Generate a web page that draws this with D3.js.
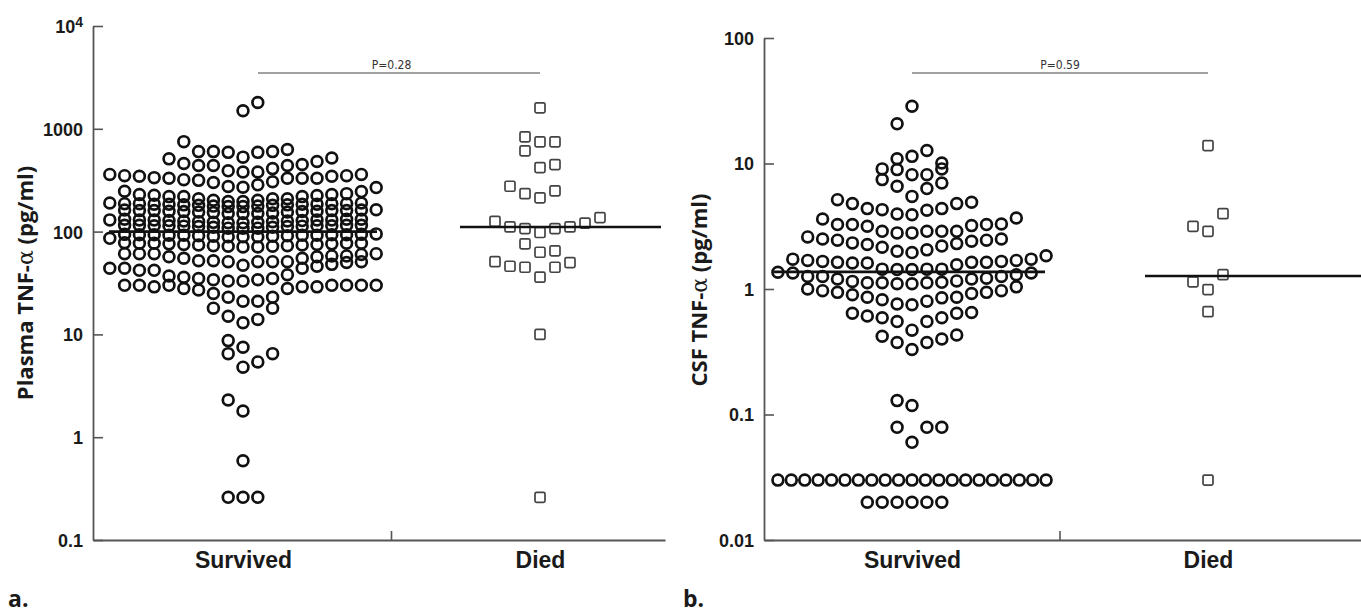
<!DOCTYPE html>
<html>
<head>
<meta charset="utf-8">
<script src="https://cdn.jsdelivr.net/npm/d3@7/dist/d3.min.js"></script>
<style>
  body { margin: 0; background: #fff; }
  svg { display: block; font-family: "Open Sans", "Noto Sans", sans-serif; }
  .tick-lbl { font-size: 18px; font-weight: 700; fill: #1a1a1a; }
  .cat-lbl { font-size: 23px; font-weight: 700; fill: #1a1a1a; }
  .y-title { font-size: 22px; font-weight: 700; fill: #1a1a1a; }
  .panel-lbl { font-size: 23px; font-weight: 700; fill: #1a1a1a; }
  .p-lbl { font-size: 12px; fill: #333; font-family: "Liberation Sans Narrow", "DejaVu Sans Condensed", sans-serif; }
</style>
</head>
<body>
<div id="chart"></div>
<script>
// ---- data ----
const categories = ["Survived", "Died"];

// plasma TNF-alpha, pg/ml; each inner array is one row of the dot plot, left to right
const plasmaSurvivedRows = [
    [1500, 1800],
    [750, 600, 600, 590, 530, 590, 600, 630],
    [510, 460, 440, 440, 390, 380, 380, 410, 440, 450, 480, 520],
    [360, 350, 345, 335, 330, 320, 315, 300, 275, 270, 285, 305, 330, 330, 330, 345, 350, 360],
    [247, 229, 226, 219, 219, 209, 202, 196, 196, 202, 209, 209, 219, 224, 229, 234, 245, 268],
    [190, 187, 187, 185, 185, 182, 180, 177, 175, 175, 177, 180, 182, 185, 185, 187, 187, 190],
    [162, 160, 160, 158, 157, 155, 153, 150, 150, 150, 152, 155, 157, 158, 160, 160, 162, 163],
    [130, 132, 130, 130, 128, 127, 125, 123, 122, 122, 123, 125, 127, 128, 130, 130, 132, 132],
    [115, 115, 114, 114, 113, 112, 110, 108, 108, 108, 110, 112, 113, 114, 114, 115, 115],
    [86, 94, 93, 93, 92, 92, 91, 90, 89, 89, 89, 90, 91, 92, 92, 93, 93, 94, 95],
    [78, 77, 77, 76, 75, 74, 73, 72, 71, 71, 72, 73, 74, 75, 76, 77, 77],
    [61, 61, 61, 57, 55, 52, 52, 51, 47, 51, 51, 51, 55, 57, 58, 58, 60, 61],
    [44, 44, 42, 42, 37, 36, 35, 34, 33, 33, 34, 35, 38, 44, 46, 48, 50, 51],
    [30, 30, 29, 30, 28, 27, 25, 23, 21, 21, 23, 28, 29, 29, 30, 30, 30, 30],
    [18, 15, 13, 14, 18],
    [8.7, 7.5],
    [6.5, 4.8, 5.4, 6.5],
    [2.3, 1.8],
    [0.59],
    [0.26, 0.26, 0.26]
];
const plasmaDiedRows = [
    [1600],
    [836, 747, 747],
    [611, 420, 449],
    [276, 234, 213, 249],
    [126, 111, 107, 98, 107, 111, 121, 137],
    [76, 63, 65],
    [51, 46, 45, 36, 45, 50],
    [10],
    [0.26]
];

// CSF TNF-alpha, pg/ml
const csfSurvivedRows = [
    [20.7, 28.6],
    [10.9, 11.4, 12.7, 10.1],
    [9.06, 8.94, 8.15, 8.15, 9.06],
    [7.44, 6.58, 5.47, 6.31, 7.0],
    [5.15, 4.79, 4.37, 4.29, 3.96, 3.91, 4.24, 4.37, 4.79, 4.91],
    [3.61, 3.26, 3.26, 3.16, 2.88, 2.8, 2.8, 2.88, 2.88, 2.88, 3.2, 3.26, 3.3, 3.68],
    [2.6, 2.5, 2.45, 2.33, 2.26, 2.15, 2.0, 1.95, 2.05, 2.2, 2.3, 2.4, 2.45, 2.5],
    [1.73, 1.69, 1.66, 1.63, 1.61, 1.61, 1.44, 1.43, 1.43, 1.44, 1.44, 1.56, 1.63, 1.63, 1.66, 1.69, 1.73, 1.84],
    [1.36, 1.34, 1.26, 1.26, 1.2, 1.15, 1.12, 1.12, 1.1, 1.1, 1.12, 1.13, 1.16, 1.2, 1.22, 1.26, 1.3, 1.34],
    [1.0, 0.97, 0.94, 0.9, 0.86, 0.82, 0.76, 0.75, 0.8, 0.85, 0.86, 0.92, 0.94, 0.97, 1.04],
    [0.64, 0.61, 0.59, 0.55, 0.47, 0.55, 0.59, 0.64, 0.65],
    [0.42, 0.375, 0.33, 0.375, 0.4, 0.43],
    [0.129, 0.118],
    [0.079, 0.06, 0.079, 0.079],
    [0.03, 0.03, 0.03, 0.03, 0.03, 0.03, 0.03, 0.03, 0.03, 0.03, 0.03,
     0.03, 0.03, 0.03, 0.03, 0.03, 0.03, 0.03, 0.03, 0.03, 0.03],
    [0.02, 0.02, 0.02, 0.02, 0.02, 0.02]
];
const csfDiedRows = [
    [13.9],
    [3.16, 2.88, 3.98],
    [1.14, 0.99, 1.30],
    [0.66],
    [0.03]
];

const plasmaMedians = [100, 111];
const csfMedians = [1.37, 1.27];
const pLabels = ["P=0.28", "P=0.59"];
const plasmaTicks = [0.1, 1, 10, 100, 1000, 10000];
const csfTicks = [0.01, 0.1, 1, 10, 100];
const panelLabels = ["a.", "b."];

// ---- drawing ----
const W = 1361, H = 616;
const svg = d3.select("#chart").append("svg")
    .attr("width", W)
    .attr("height", H);

// spread each row around the category centre; even rows alternate half-step bias
function layoutRows(rows, cx, step, startRight) {
    let pts = [];
    let right = startRight;
    let maxSpan = 18 * step;
    rows.forEach(function (row) {
        let n = row.length;
        let s = n > 1 ? Math.min(step, maxSpan / (n - 1)) : step;
        let shift;
        if (n % 2 === 1) {
            shift = (n - 1) / 2;
        } else {
            shift = right ? n / 2 - 1 : n / 2;
            right = !right;
        }
        row.forEach(function (v, i) {
            pts.push({value: v, dx: (i - shift) * s, cx: cx});
        });
    });
    return pts;
}

function drawPanel(cfg) {
    let g = svg.append("g");

    let y = d3.scaleLog().domain(cfg.yDomain).range([cfg.bottom, cfg.top]);
    let x = d3.scalePoint().domain(categories).range(cfg.centers);

    // y axis, ticks pointing inwards
    let yAxis = d3.axisLeft(y)
        .tickValues(cfg.ticks)
        .tickSizeInner(-10)
        .tickSizeOuter(0)
        .tickPadding(10)
        .tickFormat(function (d) { return d >= 1 ? d3.format("d")(d) : String(d); });

    let ya = g.append("g")
        .attr("transform", "translate(" + cfg.left + ",0)")
        .call(yAxis);
    ya.select(".domain").attr("stroke", "#555").attr("stroke-width", 1.8);
    ya.selectAll(".tick line").attr("stroke", "#555").attr("stroke-width", 1.6);
    ya.selectAll(".tick text").attr("class", "tick-lbl").attr("dy", "0.36em")
        .each(function (d) {
            if (d === 10000) {
                let t = d3.select(this).text("10");
                t.append("tspan").attr("dy", "-0.45em").style("font-size", "14px").text("4");
            }
        });

    // x axis line with a single middle tick
    let xl = d3.scaleLinear().domain([0, 1]).range([cfg.left, cfg.right]);
    let xa = g.append("g")
        .attr("transform", "translate(0," + cfg.bottom + ")")
        .call(d3.axisBottom(xl).tickValues([]).tickSizeOuter(0));
    xa.select(".domain").attr("stroke", "#555").attr("stroke-width", 1.8);

    let mid = (x(categories[0]) + x(categories[1])) / 2;
    g.append("line")
        .attr("x1", mid).attr("x2", mid)
        .attr("y1", cfg.bottom).attr("y2", cfg.bottom - 9)
        .attr("stroke", "#555").attr("stroke-width", 1.6);

    let xc = g.append("g")
        .attr("transform", "translate(0," + cfg.bottom + ")")
        .call(d3.axisBottom(x).tickSize(0).tickPadding(11));
    xc.select(".domain").remove();
    xc.selectAll(".tick text").attr("class", "cat-lbl").attr("dy", "0.75em");

    // y title
    let title = g.append("text")
        .attr("class", "y-title")
        .attr("text-anchor", "middle")
        .attr("transform", "translate(" + cfg.titleX + "," + cfg.titleY + ") rotate(-90)");
    title.append("tspan").text(cfg.title[0]);
    title.append("tspan").style("font-weight", 400).style("font-family", "DejaVu Serif, serif").text("α");
    title.append("tspan").text(cfg.title[1]);

    // panel letter
    g.append("text").attr("class", "panel-lbl")
        .attr("x", cfg.letterX).attr("y", 607)
        .text(cfg.letter);

    // significance bracket
    g.append("line")
        .attr("x1", x(categories[0]) + cfg.pInset).attr("x2", x(categories[1]))
        .attr("y1", 73).attr("y2", 73)
        .attr("stroke", "#444").attr("stroke-width", 1);
    g.append("text").attr("class", "p-lbl")
        .attr("text-anchor", "middle")
        .attr("x", mid).attr("y", 69)
        .text(cfg.p);

    // survived: circles
    let sPts = layoutRows(cfg.survived, x(categories[0]), cfg.step, cfg.sStart);
    g.append("g").selectAll("circle")
        .data(sPts)
        .join("circle")
        .attr("cx", d => d.cx + d.dx)
        .attr("cy", d => y(d.value))
        .attr("r", 5.4)
        .attr("fill", "none")
        .attr("stroke", "#111")
        .attr("stroke-width", 2.7);

    // died: squares
    let dPts = layoutRows(cfg.died, x(categories[1]), 15, cfg.dStart);
    g.append("g").selectAll("rect")
        .data(dPts)
        .join("rect")
        .attr("x", d => d.cx + d.dx - 5)
        .attr("y", d => y(d.value) - 5)
        .attr("width", 10)
        .attr("height", 10)
        .attr("rx", 1.5)
        .attr("fill", "none")
        .attr("stroke", "#444")
        .attr("stroke-width", 1.7);

    // medians
    g.append("line")
        .attr("x1", x(categories[0]) - cfg.medS[0]).attr("x2", x(categories[0]) + cfg.medS[1])
        .attr("y1", y(cfg.medians[0])).attr("y2", y(cfg.medians[0]))
        .attr("stroke", "#111").attr("stroke-width", 2.6);
    g.append("line")
        .attr("x1", x(categories[1]) - cfg.medD[0]).attr("x2", x(categories[1]) + cfg.medD[1])
        .attr("y1", y(cfg.medians[1])).attr("y2", y(cfg.medians[1]))
        .attr("stroke", "#111").attr("stroke-width", 2.6);
}

drawPanel({
    yDomain: [0.1, 10000], ticks: plasmaTicks,
    top: 26, bottom: 540, left: 93, right: 665,
    centers: [243, 540], step: 14.8,
    survived: plasmaSurvivedRows, died: plasmaDiedRows, sStart: true, dStart: false,
    medians: plasmaMedians, medS: [134, 134], medD: [80, 121],
    title: ["Plasma TNF-", " (pg/ml)"], titleX: 33, titleY: 283,
    letter: panelLabels[0], letterX: 8, p: pLabels[0], pInset: 15
});

drawPanel({
    yDomain: [0.01, 100], ticks: csfTicks,
    top: 38, bottom: 540, left: 764, right: 1361,
    centers: [912, 1208], step: 14.9,
    survived: csfSurvivedRows, died: csfDiedRows, sStart: false, dStart: false,
    medians: csfMedians, medS: [138, 133], medD: [63, 153],
    title: ["CSF TNF-", " (pg/ml)"], titleX: 707, titleY: 290,
    letter: panelLabels[1], letterX: 683, p: pLabels[1], pInset: 0
});
</script>
</body>
</html>
